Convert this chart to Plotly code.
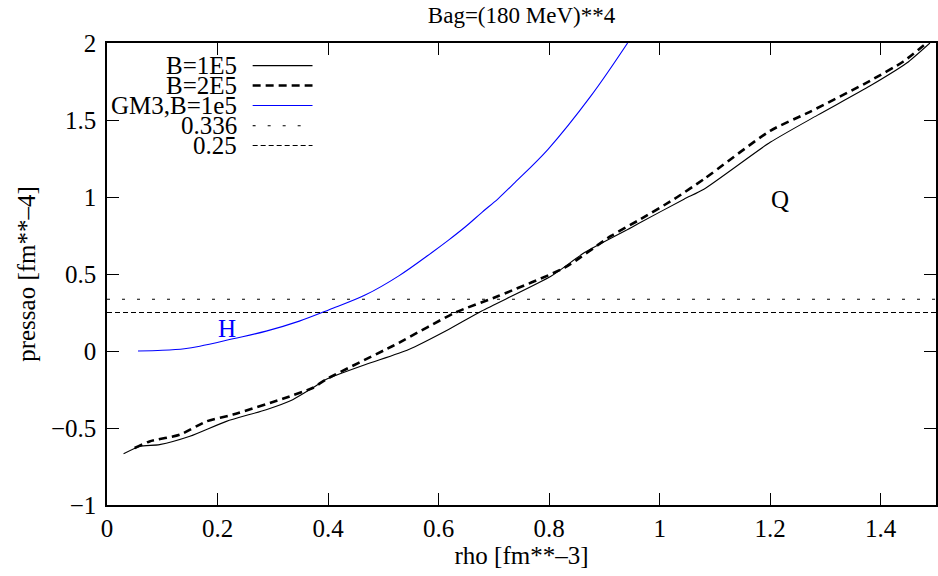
import plotly.graph_objects as go

# ---- data ----
b1_x = [0.030, 0.059, 0.095, 0.150, 0.216, 0.288, 0.336, 0.372, 0.396, 0.468, 0.546,
        0.618, 0.678, 0.804, 0.864, 0.948, 0.960, 1.044, 1.080, 1.200, 1.285, 1.381,
        1.447, 1.489]
b1_y = [-0.667, -0.620, -0.608, -0.554, -0.457, -0.381, -0.316, -0.240, -0.185, -0.088,
        0.010, 0.140, 0.260, 0.487, 0.639, 0.800, 0.824, 0.986, 1.050, 1.355, 1.530,
        1.722, 1.870, 2.000]

b2_x = [0.050, 0.077, 0.132, 0.180, 0.228, 0.318, 0.372, 0.396, 0.516, 0.528, 0.630,
        0.708, 0.828, 0.912, 0.960, 1.026, 1.080, 1.200, 1.270, 1.381, 1.441, 1.483]
b2_y = [-0.630, -0.587, -0.543, -0.457, -0.413, -0.310, -0.240, -0.185, 0.031, 0.053,
        0.249, 0.357, 0.541, 0.747, 0.845, 0.986, 1.116, 1.430, 1.550, 1.755, 1.880, 2.000]

gm3_x = [0.056, 0.100, 0.140, 0.168, 0.228, 0.288, 0.348, 0.402, 0.468, 0.528, 0.588,
         0.618, 0.648, 0.678, 0.708, 0.738, 0.798, 0.876, 0.942]
gm3_y = [0.000, 0.005, 0.015, 0.031, 0.079, 0.129, 0.194, 0.268, 0.365, 0.488, 0.640,
         0.720, 0.805, 0.899, 0.990, 1.094, 1.310, 1.658, 2.000]

levels = [0.336, 0.25]
x_span = [0.0, 1.5]

series_names = ["B=1E5", "B=2E5", "GM3,B=1e5", "0.336", "0.25"]
title_text = "Bag=(180 MeV)**4"
x_title = "rho [fm**–3]"
y_title = "pressao [fm**–4]"
x_ticks = [0, 0.2, 0.4, 0.6, 0.8, 1.0, 1.2, 1.4]
x_ticklabels = ["0", "0.2", "0.4", "0.6", "0.8", "1", "1.2", "1.4"]
y_ticks = [-1, -0.5, 0, 0.5, 1, 1.5, 2]
y_ticklabels = ["−1", "−0.5", "0", "0.5", "1", "1.5", "2"]

FONT = "Liberation Serif"
FS = 25

styles = [
    dict(color="black", width=1.1, dash="solid"),
    dict(color="black", width=2.6, dash="8px,5px"),
    dict(color="#0000ff", width=1.1, dash="solid"),
    dict(color="black", width=1.1, dash="3px,12px"),
    dict(color="black", width=1.1, dash="5px,3px"),
]

fig = go.Figure()
fig.add_trace(go.Scatter(x=b1_x, y=b1_y, mode="lines", line=dict(styles[0], shape="spline", smoothing=0.6),
                         name=series_names[0]))
fig.add_trace(go.Scatter(x=b2_x, y=b2_y, mode="lines", line=dict(styles[1], shape="spline", smoothing=0.6),
                         name=series_names[1]))
fig.add_trace(go.Scatter(x=gm3_x, y=gm3_y, mode="lines", line=dict(styles[2], shape="spline", smoothing=1.0),
                         name=series_names[2]))
for lv, nm, st in zip(levels, series_names[3:], styles[3:]):
    fig.add_trace(go.Scatter(x=x_span, y=[lv, lv], mode="lines", line=st, name=nm))

# manual gnuplot-style legend (text right, sample line on the right)
leg_y = [0.951, 0.908, 0.8646, 0.821, 0.778]
for nm, st, ly in zip(series_names, styles, leg_y):
    fig.add_annotation(x=0.159, y=ly, xref="paper", yref="paper", text=nm,
                       showarrow=False, xanchor="right", yanchor="middle",
                       font=dict(family=FONT, size=FS, color="black"))
    fig.add_shape(type="line", xref="paper", yref="paper", x0=0.1757, x1=0.2479,
                  y0=ly, y1=ly, line=st)

fig.add_annotation(x=0.218, y=0.147, text="H", showarrow=False,
                   font=dict(family=FONT, size=FS, color="#0000ff"))
fig.add_annotation(x=1.218, y=0.985, text="Q", showarrow=False,
                   font=dict(family=FONT, size=FS, color="black"))

axis_common = dict(showline=True, linecolor="black", linewidth=1.5, mirror="allticks",
                   ticks="inside", ticklen=12, tickwidth=1.2, tickcolor="black",
                   showgrid=False, zeroline=False,
                   tickfont=dict(family=FONT, size=FS, color="black"))

fig.update_layout(
    width=938, height=576,
    margin=dict(l=107, r=0, t=43, b=71),
    paper_bgcolor="white", plot_bgcolor="white",
    showlegend=False,
    font=dict(family=FONT),
    title=dict(text=title_text, x=0.556, xanchor="center", y=0.988, yanchor="top",
               font=dict(family=FONT, size=23, color="black")),
    xaxis=dict(range=[0, 1.5], tickvals=x_ticks, ticktext=x_ticklabels,
               title=dict(text=x_title, font=dict(family=FONT, size=FS, color="black"),
                          standoff=0),
               ticklabelstandoff=0, **axis_common),
    yaxis=dict(range=[-1, 2], tickvals=y_ticks, ticktext=y_ticklabels,
               title=dict(text=y_title, font=dict(family=FONT, size=FS, color="black"),
                          standoff=8),
               ticklabelstandoff=4, **axis_common),
)

fig.write_html("out.html")
